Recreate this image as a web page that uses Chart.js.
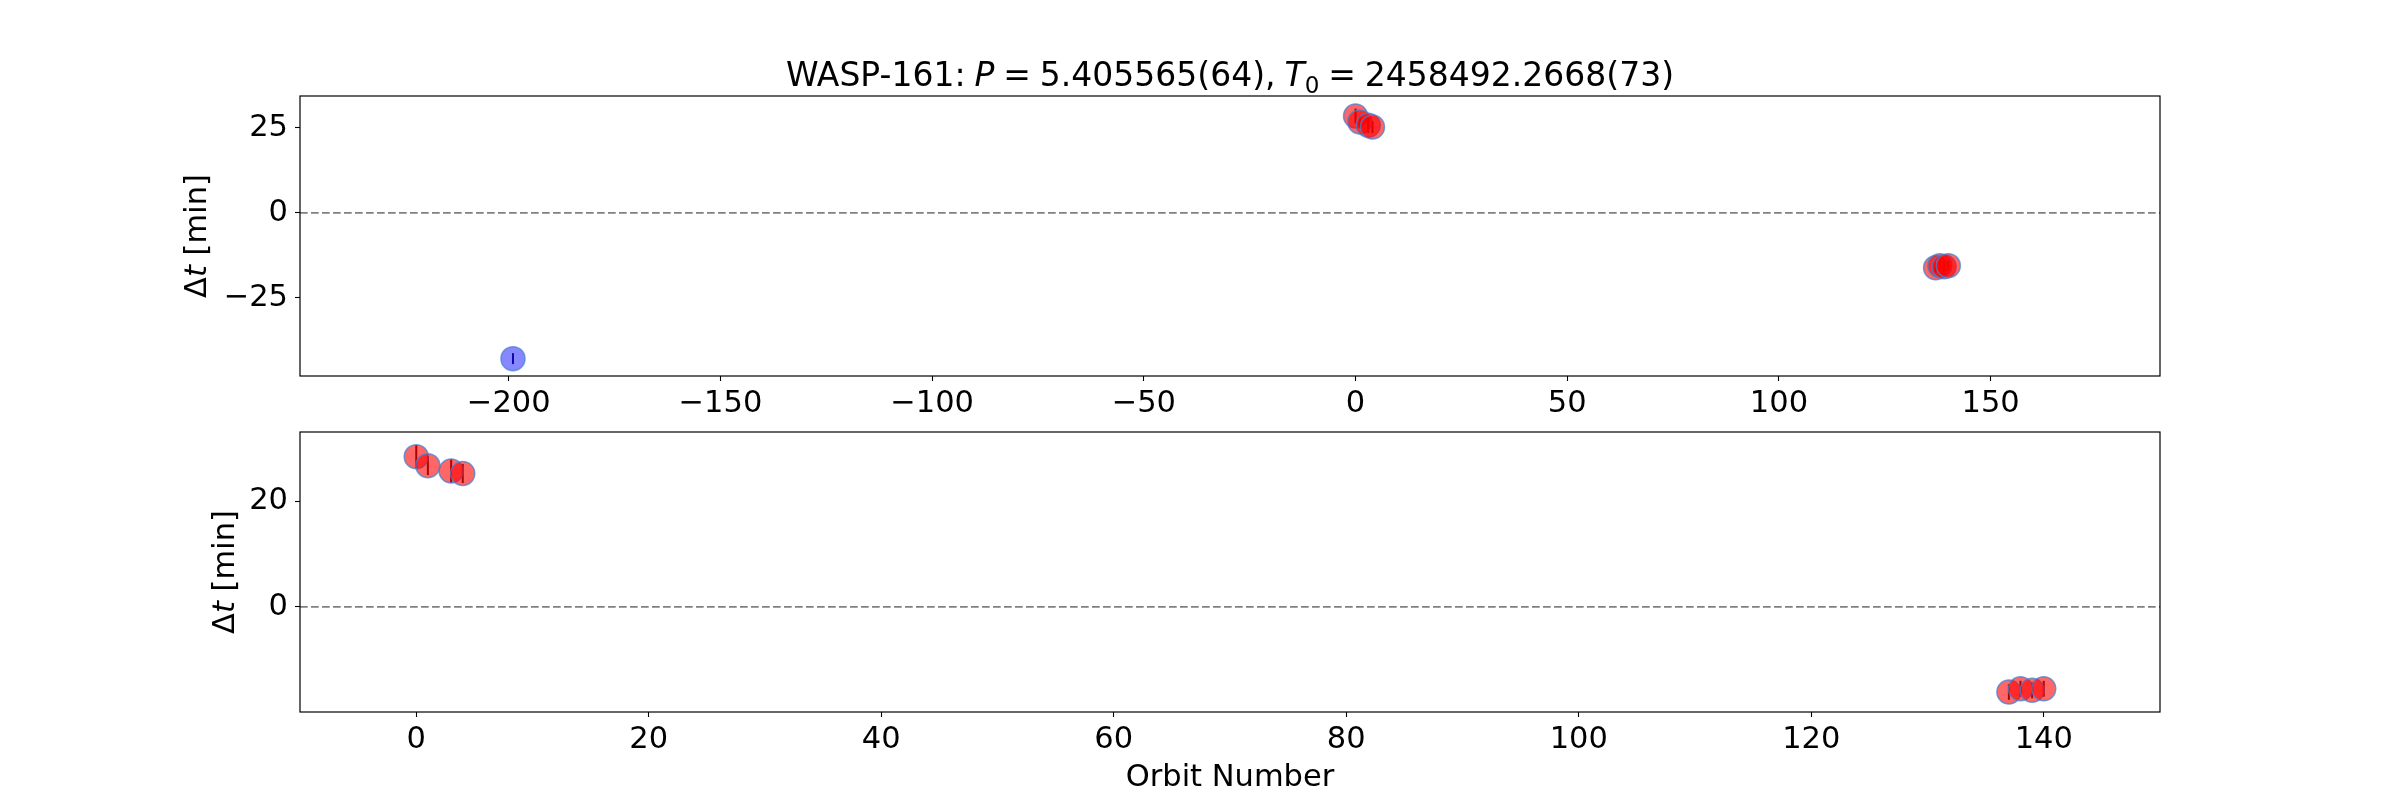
<!DOCTYPE html>
<html><head><meta charset="utf-8">
<script src="https://cdn.jsdelivr.net/npm/chart.js@4/dist/chart.umd.min.js"></script>
<style>
html,body{margin:0;padding:0;background:#fff;}
#wrap{position:relative;width:2400px;height:800px;background:#fff;}
.c{position:absolute;left:0;width:2400px;}
</style></head><body>
<div id="wrap">
<div class="c" style="top:0;height:440px"><canvas id="c1" width="2400" height="440"></canvas></div>
<div class="c" style="top:400px;height:400px"><canvas id="c2" width="2400" height="400"></canvas></div>
</div>
<script>
// ---- data ----
const orbitRed = [0, 1, 3, 4, 137, 138, 139, 140];
const dtRed    = [28.4, 26.7, 25.7, 25.2, -16.1, -15.5, -15.8, -15.5];
const errRed   = [2.2, 1.8, 2.2, 1.8, 1.5, 1.5, 1.5, 1.5];
const orbitBlue = [-199];
const dtBlue    = [-42.8];
const errBlue   = [1.6];
const topXTicks = [-200, -150, -100, -50, 0, 50, 100, 150];
const topYTicks = [-25, 0, 25];
const botXTicks = [0, 20, 40, 60, 80, 100, 120, 140];
const botYTicks = [0, 20];
const titleParts = [
  {t: 'WASP-161: ', s: 'normal'},
  {t: 'P', s: 'italic'},
  {t: ' = 5.405565(64), ', s: 'normal'},
  {t: 'T', s: 'italic'},
  {t: '0', s: 'normal', sub: true},
  {t: ' = 2458492.2668(73)', s: 'normal'}
];
const yLabelParts = [{t: 'Δ', s: 'normal'}, {t: 't', s: 'italic'}, {t: ' [min]', s: 'normal'}];
const xLabel = 'Orbit Number';

const FONT = 'DejaVu Sans';
const FS = 30.5;
const TFS = 33;
const fmt = v => String(v).replace('-', '\u2212');

// draws mixed-style text centred at cx; optional target width stretches the spaces
function drawParts(ctx, parts, size, cx, baseY, target) {
  const pieces = [];
  let total = 0, nSp = 0;
  parts.forEach(p => {
    const sz = p.sub ? size * 0.7 : size;
    const font = `${p.s} ${sz}px "${FONT}"`;
    ctx.font = font;
    p.t.split(/( )/).forEach(tok => {
      if (tok === '') return;
      const w = ctx.measureText(tok).width;
      const sp = tok === ' ';
      if (sp) nSp++;
      pieces.push({tok, font, w, sp, dy: p.sub ? size * 0.22 : 0});
      total += w;
    });
  });
  const extra = (target && nSp) ? (target - total) / nSp : 0;
  let x = cx - (total + extra * nSp) / 2;
  ctx.textAlign = 'left';
  ctx.textBaseline = 'alphabetic';
  pieces.forEach(pc => {
    if (pc.sp) { x += pc.w + extra; return; }
    ctx.font = pc.font;
    ctx.fillText(pc.tok, x, baseY + pc.dy);
    x += pc.w;
  });
}

function makeChart(id, opts) {
  const ctx = document.getElementById(id);
  const datasets = [];
  if (opts.blue) {
    datasets.push({
      data: orbitBlue.map((x, i) => ({x, y: dtBlue[i]})),
      backgroundColor: 'rgba(0,0,255,0.47)',
      borderColor: 'rgba(70,130,210,0.75)', borderWidth: 1.5, pointRadius: 12
    });
  }
  datasets.push({
    data: orbitRed.map((x, i) => ({x, y: dtRed[i]})),
    backgroundColor: 'rgba(255,0,0,0.6)',
    borderColor: 'rgba(70,130,210,0.75)', borderWidth: 1.5, pointRadius: 12
  });
  const tickFont = {family: FONT, size: FS};
  const decor = {
    id: 'decor',
    beforeDatasetsDraw(chart) {
      const c = chart.ctx, a = chart.chartArea, xs = chart.scales.x, ys = chart.scales.y;
      c.save();
      c.beginPath(); c.rect(a.left, a.top, a.right - a.left, a.bottom - a.top); c.clip();
      c.strokeStyle = '#808080'; c.lineWidth = 1.8; c.setLineDash([7.7, 3.3]);
      const y0 = ys.getPixelForValue(0);
      c.beginPath(); c.moveTo(a.left, y0); c.lineTo(a.right, y0); c.stroke();
      c.setLineDash([]);
      c.lineWidth = 2;
      const bars = (xsArr, ysArr, es, col) => {
        c.strokeStyle = col;
        xsArr.forEach((x, i) => {
          const px = xs.getPixelForValue(x);
          c.beginPath();
          c.moveTo(px, ys.getPixelForValue(ysArr[i] - es[i]));
          c.lineTo(px, ys.getPixelForValue(ysArr[i] + es[i]));
          c.stroke();
        });
      };
      if (opts.blue) bars(orbitBlue, dtBlue, errBlue, 'rgb(20,20,90)');
      bars(orbitRed, dtRed, errRed, 'rgb(60,0,0)');
      c.restore();
    },
    afterDraw(chart) {
      const c = chart.ctx, a = chart.chartArea;
      c.save();
      c.strokeStyle = '#000'; c.lineWidth = 1.2;
      c.strokeRect(a.left, a.top, a.right - a.left, a.bottom - a.top);
      c.fillStyle = '#000';
      if (opts.title) drawParts(c, titleParts, TFS, (a.left + a.right) / 2, a.top - 10, 888);
      c.save();
      c.translate(opts.ylabelX, (a.top + a.bottom) / 2);
      c.rotate(-Math.PI / 2);
      drawParts(c, yLabelParts, FS, 0, 11);
      c.restore();
      if (opts.xlabel) {
        c.font = `normal ${FS}px "${FONT}"`;
        c.textAlign = 'center'; c.textBaseline = 'alphabetic';
        c.fillText(xLabel, (a.left + a.right) / 2, opts.xlabelY);
      }
      c.restore();
    }
  };
  return new Chart(ctx, {
    type: 'scatter',
    data: {datasets},
    plugins: [decor],
    options: {
      responsive: false, animation: false,
      layout: {padding: {top: opts.padTop, right: 240, left: 0, bottom: 0}},
      plugins: {legend: {display: false}, tooltip: {enabled: false}, title: {display: false}},
      scales: {
        x: {
          type: 'linear', min: opts.xr[0], max: opts.xr[1],
          afterBuildTicks: s => { s.ticks = opts.xt.map(v => ({value: v})); },
          afterFit: s => { s.height = opts.axisH; },
          grid: {display: true, drawOnChartArea: false, drawTicks: true, tickLength: 5, tickColor: '#000', tickWidth: 1.1},
          border: {display: false},
          ticks: {font: tickFont, color: '#000', padding: 5, maxRotation: 0, autoSkip: false, callback: v => fmt(v)}
        },
        y: {
          type: 'linear', min: opts.yr[0], max: opts.yr[1],
          afterBuildTicks: s => { s.ticks = opts.yt.map(v => ({value: v})); },
          afterFit: s => { s.width = 300; },
          grid: {display: true, drawOnChartArea: false, drawTicks: true, tickLength: 5, tickColor: '#000', tickWidth: 1.1},
          border: {display: false},
          ticks: {font: tickFont, color: '#000', padding: 7, autoSkip: false, callback: v => fmt(v)}
        }
      }
    }
  });
}

makeChart('c1', {blue: true, title: true, padTop: 96, axisH: 64,
  xr: [-249.3, 190], yr: [-47.9, 34.3], xt: topXTicks, yt: topYTicks, ylabelX: 195});
makeChart('c2', {blue: false, title: false, padTop: 32, axisH: 88, xlabel: true, xlabelY: 786 - 400,
  xr: [-10, 150], yr: [-19.9, 33.06], xt: botXTicks, yt: botYTicks, ylabelX: 223});
</script>
</body></html>
